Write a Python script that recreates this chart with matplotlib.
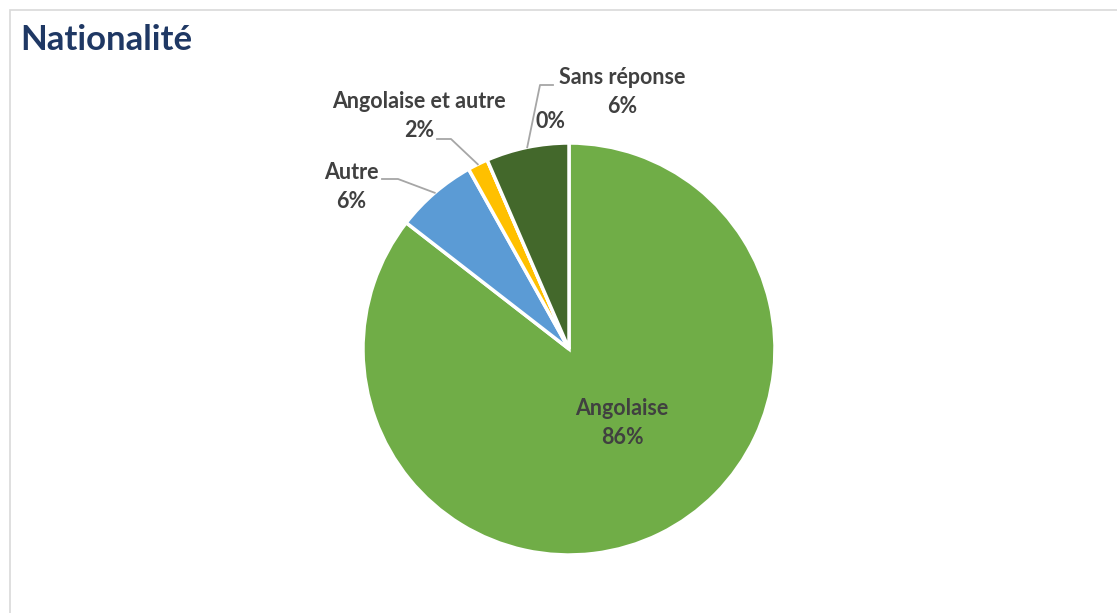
import matplotlib
matplotlib.use("Agg")
import matplotlib.pyplot as plt
import numpy as np
from matplotlib.patches import Rectangle

plt.rcParams['font.family'] = ['Lato', 'DejaVu Sans']

# données
categories = ['Angolaise', 'Autre', 'Angolaise et autre', '', 'Sans réponse']
values = [85.5, 6.4, 1.6, 0.0, 6.5]
labels_pct = ['86%', '6%', '2%', '0%', '6%']
colors = ['#70AD47', '#5B9BD5', '#FFC000', '#A5A5A5', '#43682B']

W, H = 1117, 613
CX, CY, R = 569, 349, 206


def px(x, y):
    # pixels de l'image -> coordonnées du camembert
    return (x - CX) / R, (CY - y) / R


fig = plt.figure(figsize=(W / 100, H / 100), dpi=100)
ax = fig.add_axes([0, 0, 1, 1])

wedges, _ = ax.pie(values, colors=colors, startangle=90, counterclock=False,
                   radius=1, wedgeprops=dict(edgecolor='white', linewidth=2.5))

x0, y0 = px(0, H)
x1, y1 = px(W, 0)
ax.set_xlim(x0, x1)
ax.set_ylim(y0, y1)
ax.set_aspect('auto')
ax.axis('off')

# cadre
fx, fy = px(10, 10)
ax.add_patch(Rectangle((fx, y0 - 1), 10, fy - y0 + 1, fill=False,
                       edgecolor='#D9D9D9', linewidth=1.2, clip_on=True))

ax.text(*px(20, 40), 'Nationalité', fontsize=25, fontweight='bold',
        color='#1F3864', ha='left', va='center')

txt = dict(fontsize=15.5, fontweight='bold', color='#404040',
           ha='center', va='center', linespacing=1.42)
line = dict(color='#A6A6A6', linewidth=1.3)


def mid_point(w):
    a = np.deg2rad((w.theta1 + w.theta2) / 2)
    return np.cos(a), np.sin(a)


# Angolaise (à l'intérieur)
ax.text(*px(622, 423), categories[0] + '\n' + labels_pct[0], **txt)

# Autre
ax.text(*px(351, 187), categories[1] + '\n' + labels_pct[1], **txt)
mx, my = mid_point(wedges[1])
ax.plot([px(382, 179)[0], px(398, 179)[0], mx],
        [px(382, 179)[1], px(398, 179)[1], my], **line)

# Angolaise et autre
ax.text(*px(419, 116), categories[2] + '\n' + labels_pct[2], **txt)
mx, my = mid_point(wedges[2])
ax.plot([px(437, 139)[0], px(451, 139)[0], mx],
        [px(437, 139)[1], px(451, 139)[1], my], **line)

# 0%
ax.text(*px(550, 122), labels_pct[3], **txt)

# Sans réponse
ax.text(*px(622, 92), categories[4] + '\n' + labels_pct[4], **txt)
mx, my = mid_point(wedges[4])
ax.plot([px(553, 85)[0], px(540, 85)[0], mx],
        [px(553, 85)[1], px(540, 85)[1], my], **line)

fig.savefig('out.png', dpi=100, facecolor='white')
